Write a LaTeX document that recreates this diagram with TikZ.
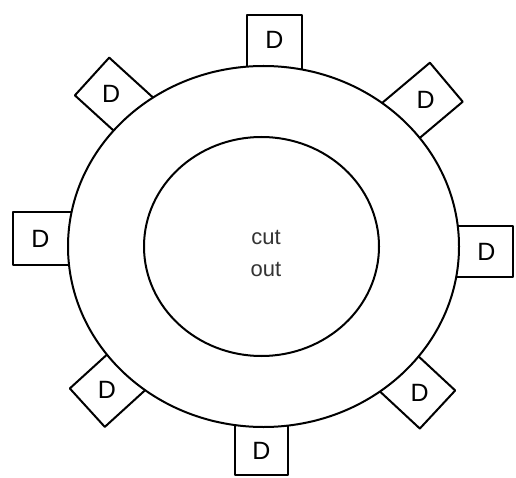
\documentclass[tikz,border=0pt]{standalone}
\usepackage{fontspec}
\setmainfont{Liberation Sans}
\usetikzlibrary{shapes.geometric}
\begin{document}
\begin{tikzpicture}[x=1pt,y=1pt, line width=2pt,
  dlabel/.style={font=\fontsize{25}{25}\selectfont, inner sep=0pt},
  boxframe/.style={draw, fill=white, line join=round},
  ring/.style={draw, fill=white, ellipse, inner sep=0pt, outer sep=0pt},
  centertext/.style={font=\fontsize{22}{22}\selectfont, text=black!80, inner sep=0pt}]
\useasboundingbox (0,0) rectangle (516,477);
\fill[white] (0,0) rectangle (516,477);
% boxes: name / x / y of inner edge midpoint / outward angle / width / height
\foreach \nm/\x/\y/\a/\w/\h in {
  top/274.5/412/90/55/50,
  bottom/261.5/50/-90/53/48,
  left/68/238.5/180/53/55,
  right/460/225.5/0/51/53,
  ul/130.5/365.5/137.7/51/52,
  ur/405/360/40.1/51/54,
  ll/126.5/105/222.3/52/53,
  lr/402/100.5/-42.9/52/48.5} {
  \begin{scope}[shift={(\x,\y)}, rotate=\a-90]
    \draw[boxframe] (-\w/2,-15) rectangle (\w/2,\h);
    \node[dlabel] (d\nm) at (0,\h/2) {D};
  \end{scope}
}
\node[ring, minimum width=391pt, minimum height=361pt] (outer) at (263.5,230.5) {};
\node[ring, minimum width=235pt, minimum height=219pt] (inner) at (261.5,230.5) {};
\node[centertext] (cut) at (266,240) {cut};
\node[centertext] (out) at (266,208) {out};
\end{tikzpicture}
\end{document}
